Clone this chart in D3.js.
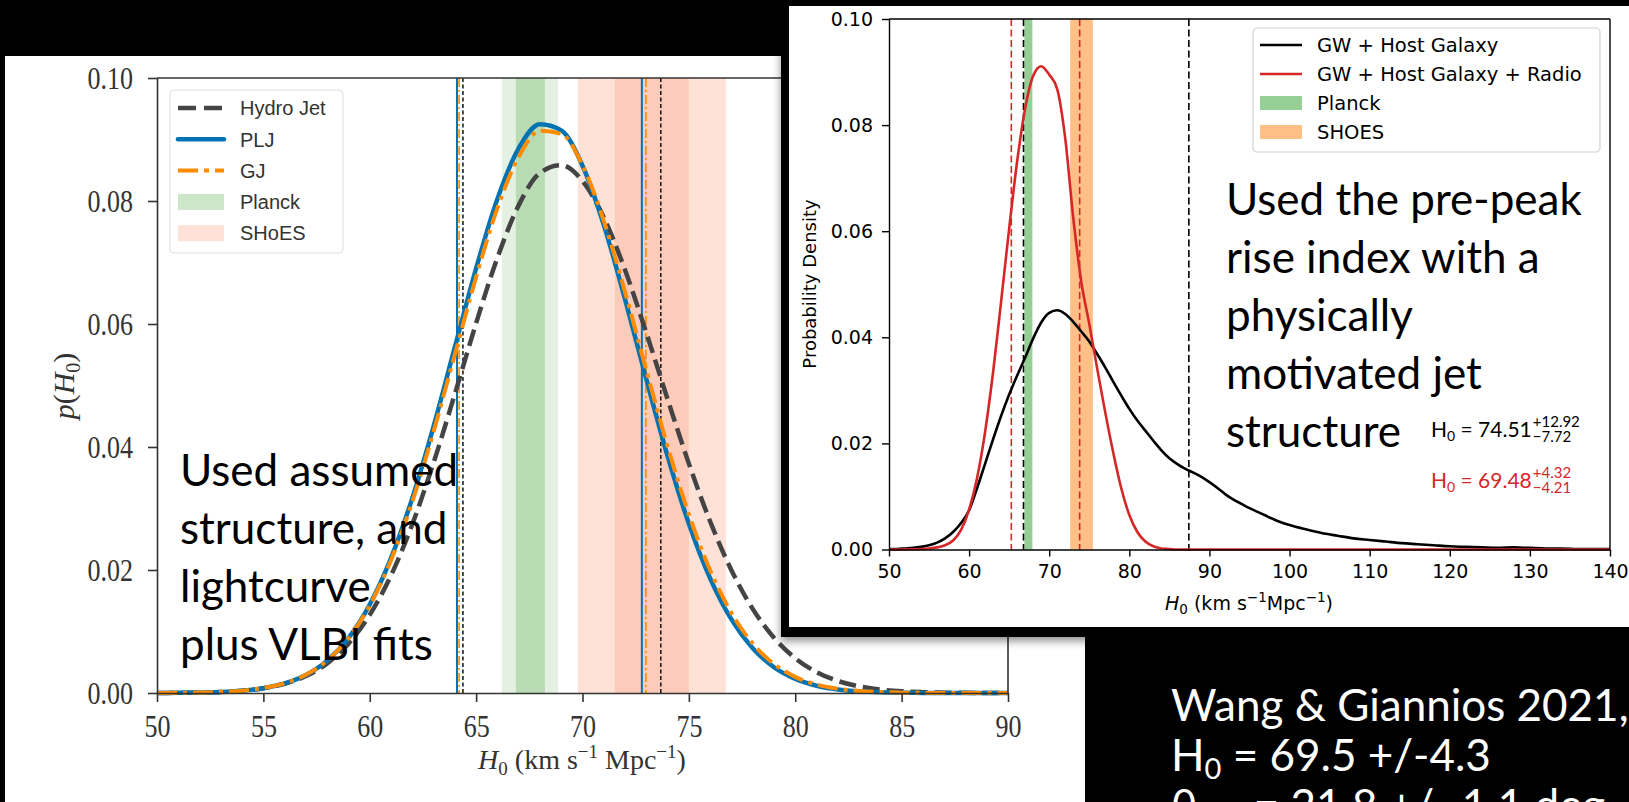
<!DOCTYPE html>
<html>
<head>
<meta charset="utf-8">
<script src="https://cdn.jsdelivr.net/npm/d3@7"></script>
<style>
  html, body { margin: 0; padding: 0; background: #000; overflow: hidden; }
</style>
</head>
<body>
<svg id="slide" width="1629" height="802"></svg>
<script>
// ---- left figure: p(H0) for three jet models ----
let leftH0 = [50, 51, 52, 53, 54, 55, 56, 57, 58, 59, 60, 61, 62, 63, 64, 65, 66, 67, 68, 69, 70,
  71, 72, 73, 74, 75, 76, 77, 78, 79, 80, 81, 82, 83, 84, 85, 86, 87, 88, 89, 90];
let hydroJet = [0.00001, 0.00003, 0.00008, 0.00018, 0.00038, 0.00078, 0.0015, 0.00276, 0.00482, 0.00802,
  0.0127, 0.01912, 0.02743, 0.03744, 0.04863, 0.06014, 0.07078, 0.07929, 0.08455, 0.08582,
  0.08325, 0.07734, 0.06878, 0.05857, 0.04777, 0.0373, 0.02789, 0.01997, 0.01368, 0.00899,
  0.00565, 0.0034, 0.00196, 0.00108, 0.00057, 0.00029, 0.00014, 0.00006, 0.00003, 0.00001, 0];
let plj = [0.00001, 0.00003, 0.00007, 0.00017, 0.00037, 0.00078, 0.00155, 0.00293, 0.00526, 0.00894,
  0.01439, 0.02194, 0.03169, 0.04337, 0.05623, 0.06905, 0.08034, 0.08856, 0.09248, 0.09148,
  0.08573, 0.07612, 0.06402, 0.05101, 0.03851, 0.02753, 0.01865, 0.01197, 0.00728, 0.00419,
  0.00229, 0.00118, 0.00058, 0.00027, 0.00012, 0.00005, 0.00002, 0.00001, 0, 0, 0];
let gj = [0.00001, 0.00003, 0.00008, 0.00017, 0.00038, 0.0008, 0.00158, 0.00296, 0.00527, 0.0089,
  0.01423, 0.0216, 0.0311, 0.0425, 0.05504, 0.06764, 0.07884, 0.08717, 0.09141, 0.09093,
  0.0858, 0.07678, 0.06519, 0.05249, 0.04009, 0.02904, 0.01996, 0.01301, 0.00804, 0.00472,
  0.00262, 0.00138, 0.00069, 0.00033, 0.00015, 0.00006, 0.00002, 0.00001, 0, 0, 0];
let hydroLimits = [64.38, 73.68];
let pljLimits = [64.1, 72.79];
let gjLimits = [64.2, 72.98];
let planckOuter = [66.21, 68.85];
let planckInner = [66.87, 68.23];
let shoesOuter = [69.78, 76.74];
let shoesInner = [71.52, 75.0];
let leftTicksX = [50, 55, 60, 65, 70, 75, 80, 85, 90];
let leftTicksY = [0, 0.02, 0.04, 0.06, 0.08, 0.1];
let leftLegend = ["Hydro Jet", "PLJ", "GJ", "Planck", "SHoES"];
let leftNote = ["Used assumed", "structure, and", "lightcurve", "plus VLBI fits"];

// ---- inset figure: GW posteriors ----
let hostH0 = [50, 51, 52, 53, 54, 55, 56, 57, 58, 59, 60, 61, 62, 63, 64, 65, 66, 67, 68, 69, 70,
  71, 72, 73, 74, 75, 76, 77, 78, 79, 80, 81, 82, 83, 84, 85, 86, 87, 88, 89, 90,
  91, 92, 93, 94, 95, 96, 97, 98, 99, 100, 102, 104, 106, 108, 110, 112, 114, 116, 118, 120,
  122, 124, 126, 128, 130, 132, 134, 136, 138, 140];
let hostP = [0.0001, 0.0001, 0.0002, 0.0003, 0.0005, 0.0008, 0.0013, 0.0021, 0.0033, 0.005,
  0.0074, 0.0116, 0.0162, 0.0208, 0.0252, 0.0292, 0.0328, 0.0362, 0.0398, 0.0428,
  0.0446, 0.0451, 0.0444, 0.0429, 0.0411, 0.0392, 0.0368, 0.0343, 0.0316, 0.029,
  0.0265, 0.0243, 0.0224, 0.0205, 0.0187, 0.0172, 0.0161, 0.0152, 0.0145, 0.0137,
  0.0127, 0.0116, 0.0104, 0.0094, 0.0086, 0.0078, 0.0071, 0.0064, 0.0057, 0.0051,
  0.0046, 0.0038, 0.0031, 0.0026, 0.0021, 0.0018, 0.0015, 0.0012, 0.001, 0.0008,
  0.0006, 0.0005, 0.0004, 0.0003, 0.0004, 0.0003, 0.0002, 0.0002, 0.0001, 0.0001, 0.0001];
let radioH0 = [50, 51, 52, 53, 54, 55, 56, 57, 58, 59, 60, 61, 62, 63, 64, 65, 66, 67, 68, 69, 70,
  71, 72, 73, 74, 75, 76, 77, 78, 79, 80, 81, 82, 83, 84, 85, 86, 88, 90, 100, 110, 120, 130, 140];
let radioP = [0, 0, 0.00002, 0.00005, 0.0001, 0.0002, 0.0004, 0.0008, 0.0017, 0.0037,
  0.0075, 0.0135, 0.0222, 0.0335, 0.0468, 0.0605, 0.0732, 0.0832, 0.0893, 0.0911,
  0.0895, 0.0868, 0.0775, 0.0625, 0.0505, 0.0425, 0.034, 0.0258, 0.0182, 0.0115,
  0.0065, 0.0033, 0.0015, 0.0006, 0.0002, 0.0001, 0, 0, 0, 0, 0, 0, 0, 0];
let planckBand = [66.9, 67.9];
let shoesBand = [72.61, 75.45];
let hostLimits = [66.79, 87.43];
let radioLimits = [65.27, 73.8];
let insetTicksX = [50, 60, 70, 80, 90, 100, 110, 120, 130, 140];
let insetTicksY = [0, 0.02, 0.04, 0.06, 0.08, 0.1];
let insetLegend = ["GW + Host Galaxy", "GW + Host Galaxy + Radio", "Planck", "SHOES"];
let rightNote = ["Used the pre-peak", "rise index with a", "physically", "motivated jet", "structure"];

let serif = "'Liberation Serif', 'DejaVu Serif', serif";
let mpl = "'DejaVu Sans', sans-serif";
let slideFont = "Lato, 'Open Sans', sans-serif";

let svg = d3.select("#slide");
svg.append("rect").attr("width", 1629).attr("height", 802).attr("fill", "#000");

let defs = svg.append("defs");
let shadow = defs.append("filter").attr("id", "shadow")
  .attr("x", "-5%").attr("y", "-5%").attr("width", "112%").attr("height", "115%");
shadow.append("feDropShadow").attr("dx", 0).attr("dy", 4).attr("stdDeviation", 4)
  .attr("flood-color", "#000").attr("flood-opacity", 0.45);

// ================= left panel =================
svg.append("rect").attr("x", 5).attr("y", 56).attr("width", 1080).attr("height", 746).attr("fill", "#fff");

let lx = d3.scaleLinear().domain([50, 90]).range([157, 1008]);
let ly = d3.scaleLinear().domain([0, 0.1]).range([693, 78]);

let bands = [
  { b: planckOuter, c: "#e4f1e2" },
  { b: planckInner, c: "#b8dbb4" },
  { b: shoesOuter, c: "#fee2d8" },
  { b: shoesInner, c: "#fdcbb9" }
];
svg.selectAll("rect.lband").data(bands).enter().append("rect")
  .attr("class", "lband")
  .attr("x", function (d) { return lx(d.b[0]); })
  .attr("width", function (d) { return lx(d.b[1]) - lx(d.b[0]); })
  .attr("y", ly(0.1))
  .attr("height", ly(0) - ly(0.1))
  .attr("fill", function (d) { return d.c; });

function vlines(vals, color, width, dash) {
  svg.append("g").selectAll("line").data(vals).enter().append("line")
    .attr("x1", function (d) { return lx(d); })
    .attr("x2", function (d) { return lx(d); })
    .attr("y1", ly(0.1)).attr("y2", ly(0))
    .attr("stroke", color).attr("stroke-width", width)
    .attr("stroke-dasharray", dash);
}
vlines(pljLimits, "#0173b2", 2, null);
vlines(gjLimits, "#ff8c00", 1.6, "9,3,2,3");
vlines(hydroLimits, "#111", 1.5, "4,2.5");

let lline = d3.line()
  .x(function (d) { return lx(d[0]); })
  .y(function (d) { return ly(d[1]); })
  .curve(d3.curveMonotoneX);

svg.append("path").datum(d3.zip(leftH0, hydroJet)).attr("d", lline)
  .attr("fill", "none").attr("stroke", "#444").attr("stroke-width", 4.5).attr("stroke-dasharray", "17,7");
svg.append("path").datum(d3.zip(leftH0, plj)).attr("d", lline)
  .attr("fill", "none").attr("stroke", "#0173b2").attr("stroke-width", 4.5);
svg.append("path").datum(d3.zip(leftH0, gj)).attr("d", lline)
  .attr("fill", "none").attr("stroke", "#ff8c00").attr("stroke-width", 4).attr("stroke-dasharray", "20,6,4,6");

// spines
svg.append("line").attr("x1", 157).attr("x2", 1008).attr("y1", 78).attr("y2", 78)
  .attr("stroke", "#333").attr("stroke-width", 1.6);
svg.append("line").attr("x1", 1008).attr("x2", 1008).attr("y1", 78).attr("y2", 693)
  .attr("stroke", "#333").attr("stroke-width", 1.6);

let lxAxis = svg.append("g").attr("transform", "translate(0,693)")
  .call(d3.axisBottom(lx).tickValues(leftTicksX).tickSize(9).tickSizeOuter(0).tickFormat(d3.format("d")));
let lyAxis = svg.append("g").attr("transform", "translate(157,0)")
  .call(d3.axisLeft(ly).tickValues(leftTicksY).tickSize(9).tickSizeOuter(0).tickFormat(d3.format(".2f")));
[lxAxis, lyAxis].forEach(function (g) {
  g.select(".domain").attr("stroke", "#333").attr("stroke-width", 1.6);
  g.selectAll(".tick line").attr("stroke", "#333").attr("stroke-width", 1.6);
  g.selectAll(".tick text").attr("fill", "#333")
    .style("font-family", serif).style("font-size", "26px")
    .attr("transform", "scale(1,1.25)");
});
lxAxis.selectAll(".tick text").attr("y", 35).attr("dy", null);
lyAxis.selectAll(".tick text").attr("x", -24).attr("y", 8.7).attr("dy", null);

// axis labels
let lxl = svg.append("text").attr("x", 582).attr("y", 769).attr("text-anchor", "middle")
  .style("font-family", serif).style("font-size", "28px").attr("fill", "#333");
lxl.append("tspan").style("font-style", "italic").text("H");
lxl.append("tspan").attr("dy", 6).style("font-size", "19px").text("0");
lxl.append("tspan").attr("dy", -6).text(" (km s");
lxl.append("tspan").attr("dy", -11).style("font-size", "19px").text("\u22121");
lxl.append("tspan").attr("dy", 11).text(" Mpc");
lxl.append("tspan").attr("dy", -11).style("font-size", "19px").text("\u22121");
lxl.append("tspan").attr("dy", 11).text(")");

let lyl = svg.append("text").attr("transform", "translate(74,386) rotate(-90)").attr("text-anchor", "middle")
  .style("font-family", serif).style("font-size", "30px").attr("fill", "#333");
lyl.append("tspan").style("font-style", "italic").text("p");
lyl.append("tspan").text("(");
lyl.append("tspan").style("font-style", "italic").text("H");
lyl.append("tspan").attr("dy", 6).style("font-size", "20px").text("0");
lyl.append("tspan").attr("dy", -6).text(")");

// legend
let lleg = svg.append("g");
lleg.append("rect").attr("x", 170).attr("y", 90).attr("width", 173).attr("height", 163).attr("rx", 4)
  .attr("fill", "#fff").attr("fill-opacity", 0.85).attr("stroke", "#ddd").attr("stroke-width", 1);
let lrow = function (i) { return 108 + i * 31.3; };
lleg.append("line").attr("x1", 178).attr("x2", 224).attr("y1", lrow(0)).attr("y2", lrow(0))
  .attr("stroke", "#444").attr("stroke-width", 4.5).attr("stroke-dasharray", "18,8");
lleg.append("line").attr("x1", 178).attr("x2", 224).attr("y1", lrow(1)).attr("y2", lrow(1))
  .attr("stroke", "#0173b2").attr("stroke-width", 4.5).attr("stroke-linecap", "round");
lleg.append("line").attr("x1", 178).attr("x2", 224).attr("y1", lrow(2)).attr("y2", lrow(2))
  .attr("stroke", "#ff8c00").attr("stroke-width", 4).attr("stroke-dasharray", "20,6,5,6");
lleg.append("rect").attr("x", 178).attr("y", lrow(3) - 8).attr("width", 46).attr("height", 16).attr("fill", "#cde6ca");
lleg.append("rect").attr("x", 178).attr("y", lrow(4) - 8).attr("width", 46).attr("height", 16).attr("fill", "#ffe1d7");
lleg.selectAll("text").data(leftLegend).enter().append("text")
  .attr("x", 240)
  .attr("y", function (d, i) { return lrow(i); })
  .attr("dy", "0.36em")
  .style("font-family", "'Liberation Sans', sans-serif").style("font-size", "20px")
  .attr("fill", "#333")
  .text(function (d) { return d; });

// slide note on the left figure
svg.append("g").selectAll("text").data(leftNote).enter().append("text")
  .attr("x", 180)
  .attr("y", function (d, i) { return 486 + i * 58; })
  .style("font-family", slideFont).style("font-size", "44px").attr("fill", "#000")
  .text(function (d) { return d; });

// ================= inset panel =================
svg.append("rect").attr("x", 781).attr("y", 0).attr("width", 848).attr("height", 637)
  .attr("fill", "#000").attr("filter", "url(#shadow)");
svg.append("rect").attr("x", 789).attr("y", 6).attr("width", 840).attr("height", 621).attr("fill", "#fff");

let rx = d3.scaleLinear().domain([50, 140]).range([889, 1610]);
let ry = d3.scaleLinear().domain([0, 0.1]).range([549.5, 19]);

svg.append("rect").attr("x", rx(planckBand[0])).attr("width", rx(planckBand[1]) - rx(planckBand[0]))
  .attr("y", ry(0.1)).attr("height", ry(0) - ry(0.1)).attr("fill", "#96cf96");
svg.append("rect").attr("x", rx(shoesBand[0])).attr("width", rx(shoesBand[1]) - rx(shoesBand[0]))
  .attr("y", ry(0.1)).attr("height", ry(0) - ry(0.1)).attr("fill", "#ffbf87");

function rvlines(vals, color) {
  svg.append("g").selectAll("line").data(vals).enter().append("line")
    .attr("x1", function (d) { return rx(d); })
    .attr("x2", function (d) { return rx(d); })
    .attr("y1", ry(0.1)).attr("y2", ry(0))
    .attr("stroke", color).attr("stroke-width", 1.6)
    .attr("stroke-dasharray", "7,3.5");
}
rvlines(hostLimits, "#000");
rvlines(radioLimits, "#d62728");

let rline = d3.line()
  .x(function (d) { return rx(d[0]); })
  .y(function (d) { return ry(d[1]); })
  .curve(d3.curveMonotoneX);
svg.append("path").datum(d3.zip(hostH0, hostP)).attr("d", rline)
  .attr("fill", "none").attr("stroke", "#000").attr("stroke-width", 2.6);
svg.append("path").datum(d3.zip(radioH0, radioP)).attr("d", rline)
  .attr("fill", "none").attr("stroke", "#d62728").attr("stroke-width", 2.6);

svg.append("line").attr("x1", 889).attr("x2", 1610).attr("y1", 19).attr("y2", 19)
  .attr("stroke", "#000").attr("stroke-width", 1.4);
svg.append("line").attr("x1", 1610).attr("x2", 1610).attr("y1", 19).attr("y2", 549.5)
  .attr("stroke", "#000").attr("stroke-width", 1.4);

let rxAxis = svg.append("g").attr("transform", "translate(0,549.5)")
  .call(d3.axisBottom(rx).tickValues(insetTicksX).tickSize(7).tickPadding(8).tickSizeOuter(0).tickFormat(d3.format("d")));
let ryAxis = svg.append("g").attr("transform", "translate(889,0)")
  .call(d3.axisLeft(ry).tickValues(insetTicksY).tickSize(7).tickPadding(9).tickSizeOuter(0).tickFormat(d3.format(".2f")));
[rxAxis, ryAxis].forEach(function (g) {
  g.select(".domain").attr("stroke", "#000").attr("stroke-width", 1.4);
  g.selectAll(".tick line").attr("stroke", "#000").attr("stroke-width", 1.4);
  g.selectAll(".tick text").attr("fill", "#000").style("font-family", mpl).style("font-size", "19px");
});

let rxl = svg.append("text").attr("x", 1249).attr("y", 610).attr("text-anchor", "middle")
  .style("font-family", mpl).style("font-size", "19px").attr("fill", "#000");
rxl.append("tspan").style("font-style", "italic").text("H");
rxl.append("tspan").attr("dy", 4).style("font-size", "13.5px").text("0");
rxl.append("tspan").attr("dy", -4).text(" (km s");
rxl.append("tspan").attr("dy", -8).style("font-size", "13.5px").text("\u22121");
rxl.append("tspan").attr("dy", 8).text("Mpc");
rxl.append("tspan").attr("dy", -8).style("font-size", "13.5px").text("\u22121");
rxl.append("tspan").attr("dy", 8).text(")");

svg.append("text").attr("transform", "translate(816,284) rotate(-90)").attr("text-anchor", "middle")
  .style("font-family", mpl).style("font-size", "18px").attr("fill", "#000")
  .text("Probability Density");

// inset legend
let rleg = svg.append("g");
rleg.append("rect").attr("x", 1253).attr("y", 28).attr("width", 347).attr("height", 124).attr("rx", 4)
  .attr("fill", "#fff").attr("fill-opacity", 0.85).attr("stroke", "#d0d0d0").attr("stroke-width", 1.2);
let rrow = function (i) { return 45 + i * 29; };
rleg.append("line").attr("x1", 1260).attr("x2", 1302).attr("y1", rrow(0)).attr("y2", rrow(0))
  .attr("stroke", "#000").attr("stroke-width", 2.6);
rleg.append("line").attr("x1", 1260).attr("x2", 1302).attr("y1", rrow(1)).attr("y2", rrow(1))
  .attr("stroke", "#d62728").attr("stroke-width", 2.6);
rleg.append("rect").attr("x", 1260).attr("y", rrow(2) - 7).attr("width", 42).attr("height", 14).attr("fill", "#96cf96");
rleg.append("rect").attr("x", 1260).attr("y", rrow(3) - 7).attr("width", 42).attr("height", 14).attr("fill", "#ffbf87");
rleg.selectAll("text").data(insetLegend).enter().append("text")
  .attr("x", 1317)
  .attr("y", function (d, i) { return rrow(i); })
  .attr("dy", "0.36em")
  .style("font-family", mpl).style("font-size", "19.5px").attr("fill", "#000")
  .text(function (d) { return d; });

// slide notes on the inset
svg.append("g").selectAll("text").data(rightNote).enter().append("text")
  .attr("x", 1226)
  .attr("y", function (d, i) { return 215 + i * 58; })
  .style("font-family", slideFont).style("font-size", "44px").attr("fill", "#000")
  .text(function (d) { return d; });

function valueWithErrors(x, y, color, val, up, down) {
  let t = svg.append("text").attr("x", x).attr("y", y)
    .style("font-family", slideFont).style("font-size", "21px").attr("fill", color);
  t.append("tspan").text("H");
  t.append("tspan").attr("dy", 4).style("font-size", "14px").text("0");
  t.append("tspan").attr("dy", -4).text(" = " + val);
  let w = t.node().getComputedTextLength();
  svg.append("text").attr("x", x + w + 1).attr("y", y - 10)
    .style("font-family", slideFont).style("font-size", "15px").attr("fill", color).text(up);
  svg.append("text").attr("x", x + w + 1).attr("y", y + 5)
    .style("font-family", slideFont).style("font-size", "15px").attr("fill", color).text(down);
}
valueWithErrors(1431, 437, "#000", "74.51", "+12.92", "\u22127.72");
valueWithErrors(1431, 488, "#d62728", "69.48", "+4.32", "\u22124.21");

// ================= bottom-right caption =================
let cap = svg.append("g").style("font-family", slideFont).style("font-size", "44px").attr("fill", "#fff");
cap.append("text").attr("x", 1171).attr("y", 721).text("Wang & Giannios 2021,");
let c2 = cap.append("text").attr("x", 1171).attr("y", 771);
c2.append("tspan").text("H");
c2.append("tspan").attr("dy", 8).style("font-size", "29px").text("0");
c2.append("tspan").attr("dy", -8).text(" = 69.5 +/-4.3");
let c3 = cap.append("text").attr("x", 1171).attr("y", 821);
c3.append("tspan").text("\u03b8");
c3.append("tspan").attr("dy", 8).style("font-size", "29px").text("obs");
c3.append("tspan").attr("dy", -8).text(" = 21.8 +/- 1.1 deg");
</script>
</body>
</html>
